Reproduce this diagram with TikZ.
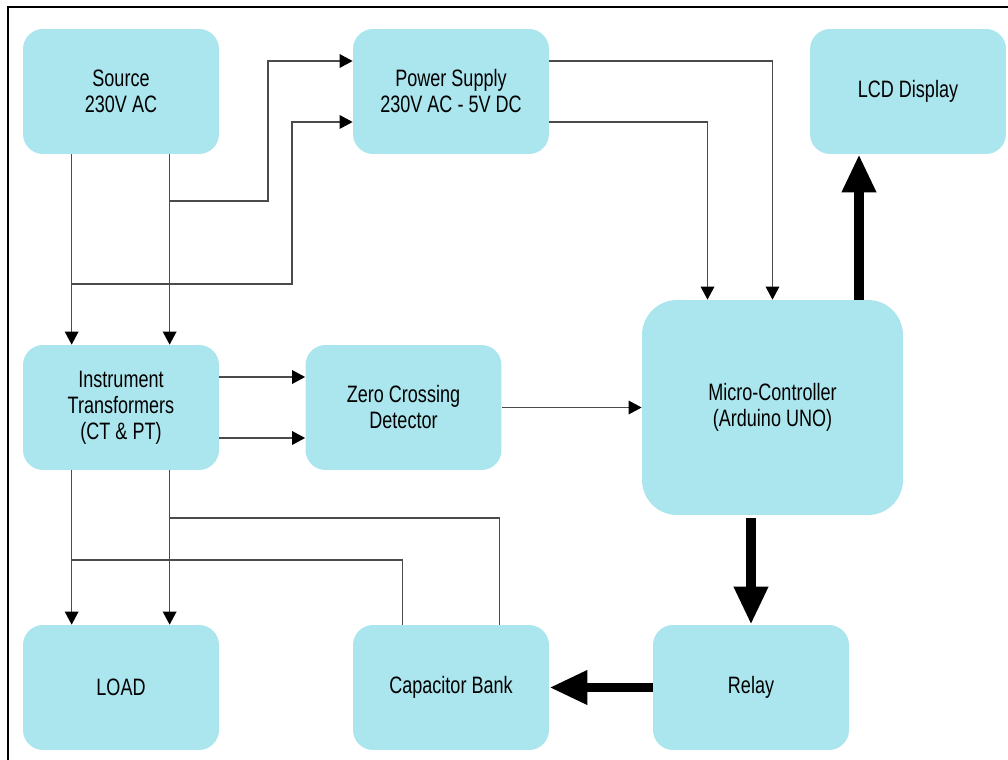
\documentclass[tikz,border=0pt]{standalone}
\usepackage{fontspec}
\setmainfont[FakeStretch=0.76]{Liberation Sans}
\usetikzlibrary{arrows.meta}
\definecolor{boxcyan}{RGB}{171,229,237}
\definecolor{wire}{RGB}{75,75,75}
\begin{document}
\begin{tikzpicture}[x=0.02cm,y=-0.02cm,>={Triangle[length=0.26cm,width=0.27cm,color=black]},
blk/.style={fill=boxcyan,rounded corners=0.4cm,minimum width=3.92cm,minimum height=2.5cm,inner sep=0pt,align=center,font=\fontsize{13.5}{14.8}\selectfont},
ln/.style={draw=wire,line width=0.85pt},
fat/.style={line width=5.6pt,-{Triangle[length=0.76cm,width=0.64cm]}}]
\useasboundingbox(0,0)rectangle(1008,760);
\draw[line width=1.2pt](8,760)--(8,7)--(1008,7);
% blocks
\node[blk](src)at(121,91.5){Source\\230V AC};
\node[blk](psu)at(451,91.5){Power Supply\\230V AC - 5V DC};
\node[blk](lcd)at(908,91.5){LCD Display};
\node[blk](itr)at(121,407.5){Instrument\\Transformers\\(CT \& PT)};
\node[blk](zcd)at(403.5,407.5){Zero Crossing\\Detector};
\node[blk,minimum width=5.22cm,minimum height=4.3cm,rounded corners=0.7cm](mcu)at(772.5,407.5){Micro-Controller\\(Arduino UNO)};
\node[blk](load)at(121,687.5){LOAD};
\node[blk](cap)at(451,687.5){Capacitor Bank};
\node[blk](relay)at(751,687.5){Relay};
% junctions
\coordinate(ja)at(170,201);
\coordinate(jb)at(72,284);
\coordinate(jc)at(72,560);
\coordinate(jd)at(170,518);
\coordinate(m1)at([xshift=1.73cm]mcu.north);
% thin wires
\draw[ln,->]([xshift=.98cm]src.south west)--([xshift=.98cm]itr.north west);
\draw[ln,->]([xshift=2.94cm]src.south west)--([xshift=2.94cm]itr.north west);
\draw[ln,->](ja)--++(98,0)|-([yshift=.61cm]psu.west);
\draw[ln,->](jb)--++(220,0)|-([yshift=-.61cm]psu.west);
\draw[ln,->]([yshift=.61cm]psu.east)-|(mcu.north);
\draw[ln,->]([yshift=-.61cm]psu.east)-|([xshift=-1.3cm]mcu.north);
\draw[ln,->]([yshift=.61cm]itr.east)--([yshift=.61cm]zcd.west);
\draw[ln,->]([yshift=-.61cm]itr.east)--([yshift=-.61cm]zcd.west);
\draw[ln,->](zcd.east)--(mcu.west);
\draw[ln,->]([xshift=.98cm]itr.south west)--([xshift=.98cm]load.north west);
\draw[ln,->]([xshift=2.94cm]itr.south west)--([xshift=2.94cm]load.north west);
\draw[ln]([xshift=1cm]cap.north west)|-(jc);
\draw[ln]([xshift=2.94cm]cap.north west)|-(jd);
% thick arrows
\draw[fat](m1)--(m1|-lcd.south);
\draw[fat,shorten <=0.06cm](relay.north|-mcu.south)--(relay.north);
\draw[fat](relay.west)--(cap.east);
\end{tikzpicture}
\end{document}
